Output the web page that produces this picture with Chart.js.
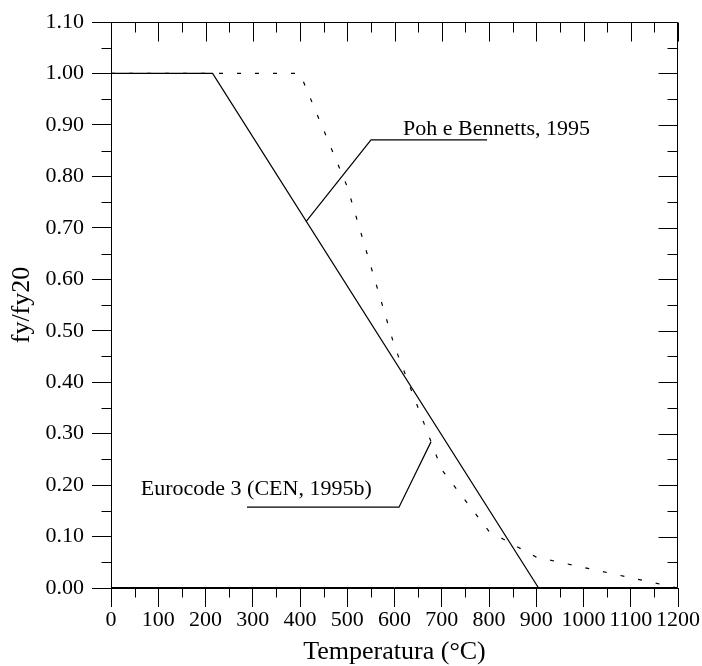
<!DOCTYPE html>
<html><head><meta charset="utf-8">
<script src="https://cdn.jsdelivr.net/npm/chart.js@4.4.0/dist/chart.umd.min.js"></script>
<style>html,body{margin:0;padding:0;background:#fff;} #wrap{width:702px;height:666px;}</style>
</head><body><div id="wrap"><canvas id="c" width="702" height="666"></canvas></div>
<script>
// Poh e Bennetts (1995) – solid
const pohTemps = [0, 215, 905];
const pohValues = [1.0, 1.0, 0.0];
// Eurocode 3 (CEN, 1995b) – dotted
const ec3Temps = [0, 400, 500, 600, 700, 800, 900, 1000, 1100, 1200];
const ec3Values = [1.0, 1.0, 0.78, 0.47, 0.23, 0.11, 0.06, 0.04, 0.02, 0.0];
// leader lines for the labels (data units)
const pohLeaderX = [412.7, 550.3, 795.8];
const pohLeaderY = [0.712, 0.871, 0.871];
const ec3LeaderX = [677.2, 609.5, 287.8];
const ec3LeaderY = [0.284, 0.157, 0.157];
// labels
const labelTexts = ['Poh e Bennetts, 1995', 'Eurocode 3 (CEN, 1995b)'];
const labelX = [618, 63];
const labelY = [0.880, 0.181];
const xTitle = 'Temperatura (\u00B0C)';
const yTitle = 'fy/fy20';
const xMin = 0, xMax = 1200, xMajor = 100, xMinor = 50;
const yMin = 0, yMax = 1.1, yMajor = 0.1, yMinor = 0.05;

const FONT = '"Liberation Serif", "Times New Roman", serif';
const pts = (xs, ys) => xs.map((v, i) => ({x: v, y: ys[i]}));

const frameTicks = {
  id: 'frameTicks',
  afterDatasetsDraw(chart) {
    const {ctx, scales: {x, y}} = chart;
    ctx.save();
    ctx.fillStyle = '#000';
    ctx.font = '22px ' + FONT;
    ctx.textAlign = 'left';
    ctx.textBaseline = 'alphabetic';
    labelTexts.forEach((t, i) => {
      ctx.fillText(t, x.getPixelForValue(labelX[i]), y.getPixelForValue(labelY[i]));
    });
    ctx.restore();
  },
  afterDraw(chart) {
    const {ctx, chartArea: a, scales: {x, y}} = chart;
    const L = Math.round(a.left) + 0.5, R = Math.round(a.right) - 0.5;
    const T = Math.round(a.top) + 0.5, B = Math.round(a.bottom) - 0.5;
    ctx.save();
    ctx.strokeStyle = '#000';
    ctx.lineWidth = 1;
    ctx.beginPath();
    ctx.rect(L, T, R - L, B - T);
    const nx = Math.round((xMax - xMin) / xMinor);
    for (let i = 0; i <= nx; i++) {
      const v = xMin + i * xMinor;
      const px = Math.round(x.getPixelForValue(v)) + 0.5;
      const major = i % Math.round(xMajor / xMinor) === 0;
      const len = major ? 19 : 10;
      ctx.moveTo(px, T); ctx.lineTo(px, T + len);
      if (!major) { ctx.moveTo(px, B); ctx.lineTo(px, B + len); }
    }
    const ny = Math.round((yMax - yMin) / yMinor);
    for (let i = 0; i <= ny; i++) {
      const v = yMin + i * yMinor;
      const py = Math.round(y.getPixelForValue(v)) + 0.5;
      const major = i % Math.round(yMajor / yMinor) === 0;
      const len = major ? 19 : 10;
      ctx.moveTo(R, py); ctx.lineTo(R - len, py);
      if (!major) { ctx.moveTo(L, py); ctx.lineTo(L - len, py); }
    }
    ctx.stroke();
    ctx.restore();
  }
};

new Chart(document.getElementById('c'), {
  type: 'line',
  data: {
    datasets: [
      {data: pts(pohTemps, pohValues), borderColor: '#000', borderWidth: 1.2, pointRadius: 0, fill: false, tension: 0},
      {data: pts(ec3Temps, ec3Values), borderColor: '#000', borderWidth: 1.2, borderDash: [4, 14], pointRadius: 0, fill: false, tension: 0},
      {data: pts(pohLeaderX, pohLeaderY), borderColor: '#000', borderWidth: 1.2, pointRadius: 0, fill: false, tension: 0},
      {data: pts(ec3LeaderX, ec3LeaderY), borderColor: '#000', borderWidth: 1.2, pointRadius: 0, fill: false, tension: 0}
    ]
  },
  options: {
    responsive: false,
    animation: false,
    devicePixelRatio: 1,
    layout: {padding: {top: 22, right: 24, left: 0, bottom: 0}},
    plugins: {legend: {display: false}, tooltip: {enabled: false}},
    scales: {
      x: {
        type: 'linear', min: xMin, max: xMax,
        afterFit: s => { s.height = 78; },
        border: {display: true, color: '#000', width: 1},
        grid: {display: true, drawOnChartArea: false, drawTicks: true, tickLength: 19, color: '#000', tickColor: '#000'},
        ticks: {stepSize: xMajor, autoSkip: false, maxRotation: 0, color: '#000', padding: 2,
                font: {family: FONT, size: 22, lineHeight: 1},
                callback: v => String(Math.round(v))},
        title: {display: true, text: xTitle, color: '#000', font: {family: FONT, size: 26, lineHeight: 1}, padding: {top: 0, bottom: 1}}
      },
      y: {
        type: 'linear', min: yMin, max: yMax,
        afterFit: s => { s.width = 111; },
        border: {display: true, color: '#000', width: 1},
        grid: {display: true, drawOnChartArea: false, drawTicks: true, tickLength: 19, color: '#000', tickColor: '#000'},
        ticks: {stepSize: yMajor, autoSkip: false, color: '#000', padding: 8,
                font: {family: FONT, size: 22, lineHeight: 1},
                callback: v => Number(v).toFixed(2)},
        title: {display: true, text: yTitle, color: '#000', font: {family: FONT, size: 26, lineHeight: 1}, padding: {top: 9, bottom: 0}}
      }
    }
  },
  plugins: [frameTicks]
});
</script>
</body></html>
